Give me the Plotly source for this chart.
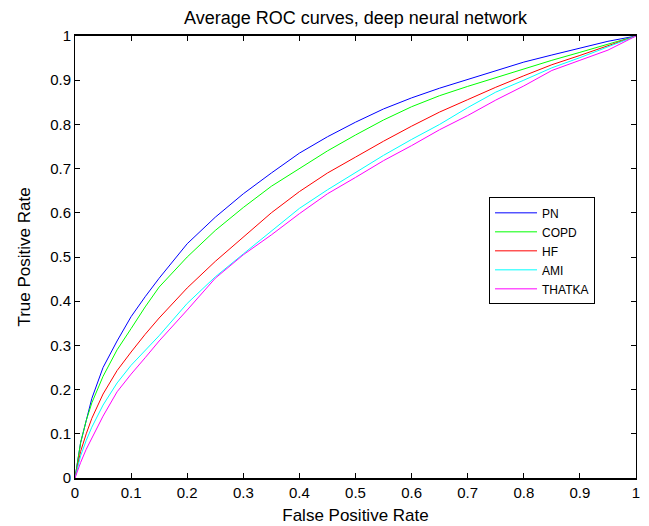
import plotly.graph_objects as go

fpr = [0, 0.01, 0.02, 0.03, 0.05, 0.075, 0.1, 0.125, 0.15, 0.2, 0.25, 0.3, 0.35,
       0.4, 0.45, 0.5, 0.55, 0.6, 0.65, 0.7, 0.75, 0.8, 0.85, 0.9, 0.95, 1]

tpr_pn = [0, 0.08, 0.13, 0.18, 0.25, 0.31, 0.365, 0.41, 0.452, 0.53, 0.59, 0.643, 0.69,
          0.735, 0.772, 0.805, 0.835, 0.86, 0.882, 0.902, 0.922, 0.941, 0.957, 0.972, 0.988, 1]
tpr_copd = [0, 0.08, 0.13, 0.17, 0.23, 0.29, 0.338, 0.387, 0.432, 0.50, 0.56, 0.612, 0.66,
            0.70, 0.74, 0.776, 0.81, 0.84, 0.865, 0.886, 0.906, 0.926, 0.945, 0.963, 0.982, 1]
tpr_hf = [0, 0.06, 0.10, 0.135, 0.19, 0.243, 0.285, 0.325, 0.362, 0.43, 0.49, 0.546, 0.60,
          0.648, 0.69, 0.726, 0.762, 0.796, 0.828, 0.856, 0.884, 0.91, 0.935, 0.956, 0.978, 1]
tpr_ami = [0, 0.05, 0.085, 0.115, 0.165, 0.215, 0.255, 0.288, 0.322, 0.395, 0.455, 0.507, 0.558,
           0.61, 0.652, 0.692, 0.73, 0.766, 0.80, 0.838, 0.873, 0.90, 0.928, 0.951, 0.975, 1]
tpr_thatka = [0, 0.035, 0.065, 0.09, 0.14, 0.195, 0.235, 0.272, 0.31, 0.38, 0.452, 0.505, 0.55,
              0.598, 0.643, 0.68, 0.718, 0.752, 0.788, 0.82, 0.855, 0.887, 0.922, 0.945, 0.968, 1]

names = ["PN", "COPD", "HF", "AMI", "THATKA"]
series = [tpr_pn, tpr_copd, tpr_hf, tpr_ami, tpr_thatka]
colors = ["#0000FF", "#00FF00", "#FF0000", "#00FFFF", "#FF00FF"]

tick_vals = [0, 0.1, 0.2, 0.3, 0.4, 0.5, 0.6, 0.7, 0.8, 0.9, 1]
tick_text = ["0", "0.1", "0.2", "0.3", "0.4", "0.5", "0.6", "0.7", "0.8", "0.9", "1"]

FONT = "Liberation Sans, Arial, Helvetica"

fig = go.Figure()
for n, s, c in zip(names, series, colors):
    fig.add_trace(go.Scatter(x=fpr, y=s, mode="lines", name=n,
                             line=dict(color=c, width=1)))

axis_common = dict(range=[0, 1], tickvals=tick_vals, ticktext=tick_text,
                   ticks="inside", ticklen=5, tickcolor="black", tickwidth=1,
                   showline=True, linecolor="black", mirror="ticks",
                   showgrid=False, zeroline=False, automargin=False,
                   tickfont=dict(family=FONT, size=15, color="black"))

# The page body has an 8px margin, so the figure is sized/offset to compensate.
fig.update_layout(
    width=641, height=518,
    margin=dict(l=67, r=13, t=28, b=48, autoexpand=False),
    paper_bgcolor="white", plot_bgcolor="white",
    title=dict(text="Average ROC curves, deep neural network",
               xref="paper", x=0.5, xanchor="center",
               yref="container", y=1 - 10 / 518, yanchor="middle", automargin=False,
               font=dict(family=FONT, size=18, color="black")),
    xaxis=dict(title=dict(text="False Positive Rate", standoff=9,
                          font=dict(family=FONT, size=17, color="black")),
               linewidth=1.5, **axis_common),
    yaxis=dict(title=dict(text="True Positive Rate", standoff=15,
                          font=dict(family=FONT, size=17, color="black")),
               linewidth=1, **axis_common),
    legend=dict(x=0.738, y=0.635, xanchor="left", yanchor="top",
                bgcolor="white", bordercolor="black", borderwidth=1,
                font=dict(family=FONT, size=12, color="black"),
                tracegroupgap=0, itemwidth=42),
    showlegend=True,
)

fig.write_html("out.html")
